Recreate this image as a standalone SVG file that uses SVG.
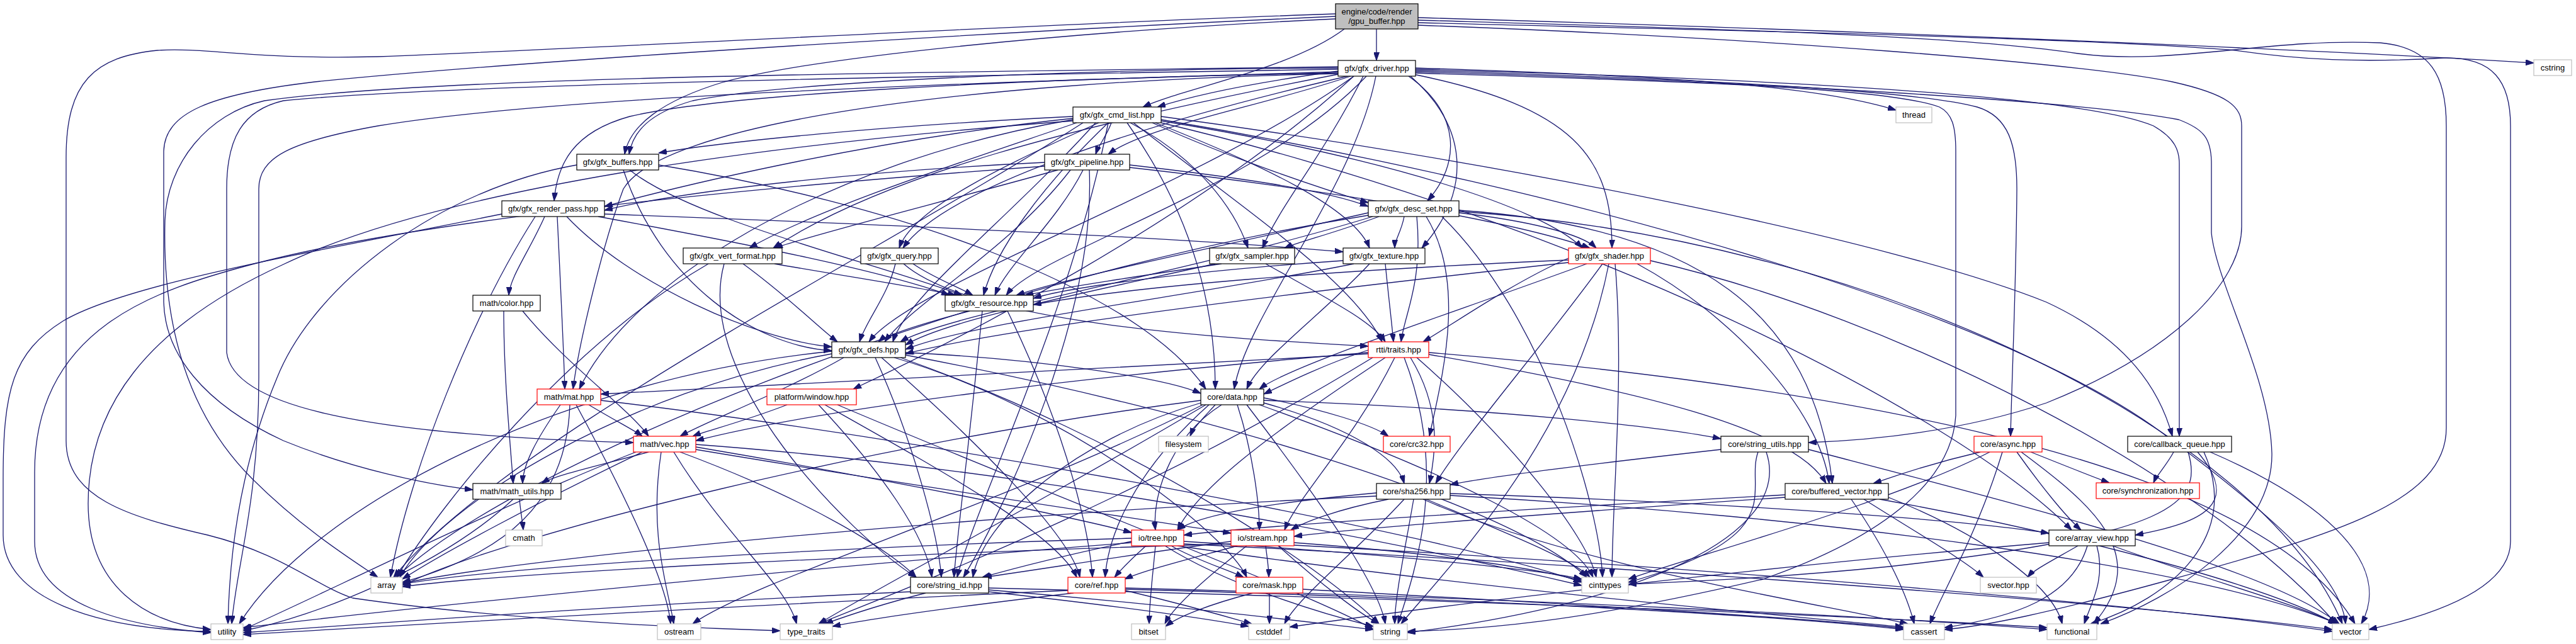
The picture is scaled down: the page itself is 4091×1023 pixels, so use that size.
<svg xmlns="http://www.w3.org/2000/svg" width="4091" height="1023" viewBox="0 0 4091 1023">
<style>
.n rect{fill:#fff;stroke:#000;stroke-width:1.2}
.n.r rect{stroke:#ff0000}
.n.g rect{stroke:#bfbfbf}
.n.root rect{fill:#bfbfbf}
.n text{font-family:"Liberation Sans",Arial,sans-serif;font-size:13px;text-anchor:middle;fill:#000}
#edges path{fill:none;stroke:#191970;stroke-width:1.3;marker-end:url(#a)}
</style>
<defs>
<marker id="a" markerWidth="13" markerHeight="9" refX="13" refY="4.5" orient="auto" markerUnits="userSpaceOnUse"><path d="M0,0 L13,4.5 L0,9 z" fill="#191970" stroke="#191970" stroke-width="1"/></marker>
</defs>
<rect width="4091" height="1023" fill="#fff"/>
<g id="edges">
<path d="M2186,46 C2186,66 2186,76 2186,96"/>
<path d="M2135,46 C2050,110 1880,140 1815,170"/>
<path d="M2121,30 C1700,50 1300,90 1150,130 C1050,160 1000,200 992,245"/>
<path d="M2252,28 C3000,50 3700,80 4024,100"/>
<path d="M2252,32 C2700,45 3100,55 3300,85 C3450,105 3600,60 3780,68 C3860,75 3885,120 3885,200 L3885,680 C3885,800 3700,850 3450,920 C3250,975 3150,995 3088,1000"/>
<path d="M2252,36 C2800,50 3300,60 3550,80 C3650,95 3750,100 3880,92 C3960,90 3987,130 3987,200 L3987,860 C3987,940 3850,980 3762,1000"/>
<path d="M2252,40 C2800,60 3300,100 3450,130 C3540,150 3560,170 3560,200 L3560,360 C3560,450 3450,560 3250,640 C3100,690 2950,700 2872,703"/>
<path d="M2121,22 C1600,40 1100,70 600,90 C400,95 330,75 250,80 C150,90 105,130 105,250 L105,700 C105,790 200,820 330,850 C450,880 500,930 560,950 C800,985 1100,998 1239,1002"/>
<path d="M2121,26 C1700,45 900,90 500,130 C330,150 262,180 260,240 L260,480 C262,560 320,640 450,700 C560,745 680,770 751,778"/>
<path d="M2125,113 C2000,130 1900,150 1838,170"/>
<path d="M2125,108 C1700,110 1250,130 1100,160 C1030,180 1005,210 999,245"/>
<path d="M2145,121 C2000,170 1820,200 1760,245"/>
<path d="M2125,116 C1600,125 1150,150 1000,185 C910,210 885,260 880,319"/>
<path d="M2237,121 C2320,180 2320,260 2267,319"/>
<path d="M2125,118 C1700,200 1400,280 1228,394"/>
<path d="M2140,121 C1800,200 1500,300 1434,394"/>
<path d="M2165,121 C2100,250 2030,330 2005,394"/>
<path d="M2240,121 C2330,200 2340,300 2258,394"/>
<path d="M2245,118 C2500,170 2560,250 2560,394"/>
<path d="M2170,121 C2000,300 1650,400 1598,469"/>
<path d="M2150,121 C1900,300 1450,450 1380,543"/>
<path d="M2125,117 C1500,130 1050,200 990,300 C960,380 920,540 910,618"/>
<path d="M2125,110 C1400,122 700,135 450,160 C385,175 360,220 360,300 L360,560 C370,640 550,690 1006,703"/>
<path d="M2150,121 C1900,350 1500,550 1355,618"/>
<path d="M2185,121 C2150,300 1980,500 1960,618"/>
<path d="M2248,112 C2700,125 3050,145 3140,170 C3190,185 3203,230 3203,300 C3202,450 3195,600 3193,693"/>
<path d="M2248,110 C2800,125 3300,150 3420,200 C3455,220 3461,240 3461,260 L3461,693"/>
<path d="M2248,114 C2800,130 3300,160 3460,190 C3500,205 3512,220 3512,260 L3512,370 C3520,450 3605,600 3608,720 C3610,850 3450,950 3336,991"/>
<path d="M2248,116 C2700,130 3000,140 3080,170 C3100,180 3106,200 3106,240 L3106,660 C3100,760 3000,850 2800,920 C2500,990 2350,1000 2235,1003"/>
<path d="M2248,108 C2700,122 2900,140 3011,175"/>
<path d="M2125,106 C1500,115 700,120 420,160 C330,180 265,260 262,350 C258,500 290,650 400,760 C480,840 560,890 600,917"/>
<path d="M2125,114 C1600,130 900,150 600,200 C460,225 411,250 411,300 L411,600 C411,800 375,900 368,991"/>
<path d="M1704,185 C1400,200 1150,225 1046,243"/>
<path d="M1765,195 C1758,215 1745,230 1740,245"/>
<path d="M1704,188 C1400,220 1100,290 960,328"/>
<path d="M1830,195 C1950,250 2100,300 2173,322"/>
<path d="M1710,195 C1550,250 1300,330 1190,394"/>
<path d="M1745,195 C1600,260 1450,330 1428,394"/>
<path d="M1795,195 C1900,250 1960,330 1982,394"/>
<path d="M1835,195 C2000,260 2150,330 2175,394"/>
<path d="M1844,192 C2200,250 2450,330 2513,394"/>
<path d="M1760,195 C1650,300 1580,400 1562,469"/>
<path d="M1740,195 C1600,350 1440,470 1418,543"/>
<path d="M1790,195 C1900,350 1930,500 1930,618"/>
<path d="M1704,190 C1300,260 1000,450 920,618"/>
<path d="M1844,185 C2400,260 3000,380 3250,480 C3380,540 3430,620 3450,693"/>
<path d="M1704,192 C1200,230 700,300 450,420 C230,520 140,650 140,800 C140,930 230,990 335,1000"/>
<path d="M1720,195 C1400,400 800,700 625,917"/>
<path d="M1844,190 C2500,300 3200,500 3450,700 C3650,850 3720,930 3725,991"/>
<path d="M1760,195 C1700,500 1550,800 1520,917"/>
<path d="M1844,195 C2500,350 3100,650 3290,842"/>
<path d="M1800,195 C2000,350 2150,450 2195,543"/>
<path d="M1000,270 C1100,350 1400,420 1528,469"/>
<path d="M990,270 C1050,450 1200,550 1321,557"/>
<path d="M916,262 C700,300 500,450 440,600 C390,720 365,850 362,991"/>
<path d="M1046,262 C1400,320 1800,450 1915,618"/>
<path d="M1659,258 C1400,270 1100,300 960,334"/>
<path d="M1794,262 C1950,280 2100,300 2173,328"/>
<path d="M1680,270 C1500,320 1300,370 1230,394"/>
<path d="M1794,266 C2100,300 2400,350 2525,394"/>
<path d="M1720,270 C1680,350 1600,420 1580,469"/>
<path d="M1700,270 C1600,400 1450,480 1405,543"/>
<path d="M1659,264 C1300,290 700,340 400,420 C250,460 55,520 55,750 L55,860 C55,960 200,995 335,1005"/>
<path d="M1730,270 C1740,500 1600,800 1530,917"/>
<path d="M960,340 C1500,360 1900,380 2133,400"/>
<path d="M950,344 C1200,390 1400,430 1508,469"/>
<path d="M900,344 C1000,450 1200,540 1321,551"/>
<path d="M865,344 C840,400 810,440 808,469"/>
<path d="M885,344 C890,450 895,550 897,618"/>
<path d="M797,340 C500,400 200,450 100,510 C20,560 5,620 5,760 L5,850 C5,950 150,1000 335,1003"/>
<path d="M850,344 C750,500 650,750 620,917"/>
<path d="M2190,344 C2120,370 2060,385 2040,394"/>
<path d="M2230,344 C2225,370 2215,380 2215,394"/>
<path d="M2317,338 C2420,350 2510,370 2535,394"/>
<path d="M2173,338 C1900,400 1700,440 1614,469"/>
<path d="M2180,344 C1900,430 1500,500 1430,543"/>
<path d="M2250,344 C2260,450 2230,500 2225,543"/>
<path d="M2265,344 C2330,450 2290,600 2270,693"/>
<path d="M2317,334 C2700,360 2880,500 2910,768"/>
<path d="M2290,344 C2450,500 2540,800 2545,917"/>
<path d="M2173,342 C1500,450 800,750 630,917"/>
<path d="M2317,336 C3000,380 3600,700 3720,991"/>
<path d="M1230,419 C1350,440 1450,455 1518,469"/>
<path d="M1180,419 C1250,470 1300,520 1330,543"/>
<path d="M1125,419 C900,550 700,800 630,917"/>
<path d="M1150,419 C1100,600 1350,850 1455,917"/>
<path d="M1450,419 C1480,440 1520,455 1545,469"/>
<path d="M1422,419 C1410,470 1375,510 1365,543"/>
<path d="M1435,419 C1550,520 2000,540 2173,550"/>
<path d="M1940,419 C1800,440 1700,455 1628,469"/>
<path d="M1930,419 C1700,470 1500,510 1438,548"/>
<path d="M2010,419 C2100,470 2180,510 2200,543"/>
<path d="M2133,414 C1900,430 1700,455 1641,474"/>
<path d="M2150,419 C1900,470 1550,510 1438,555"/>
<path d="M2200,419 C2205,470 2210,510 2213,543"/>
<path d="M2175,419 C2100,500 2000,570 1980,618"/>
<path d="M2491,413 C2100,430 1800,455 1641,484"/>
<path d="M2491,417 C2100,460 1600,520 1438,562"/>
<path d="M2520,419 C2300,500 2050,580 2000,618"/>
<path d="M2545,419 C2450,550 2320,700 2280,768"/>
<path d="M2600,419 C2750,500 2890,650 2905,768"/>
<path d="M2565,419 C2580,600 2560,800 2560,917"/>
<path d="M2621,414 C3000,500 3500,750 3710,991"/>
<path d="M2555,419 C2500,700 2300,900 2225,991"/>
<path d="M2491,410 C2400,450 2300,520 2260,543"/>
<path d="M1540,494 C1480,510 1410,530 1395,543"/>
<path d="M1560,494 C1540,700 1520,850 1515,917"/>
<path d="M1600,494 C1700,700 1730,850 1735,917"/>
<path d="M830,494 C900,580 1000,650 1030,693"/>
<path d="M800,494 C800,600 810,700 815,768"/>
<path d="M1340,568 C1250,620 1120,670 1080,693"/>
<path d="M1438,560 C1650,570 1850,600 1907,625"/>
<path d="M1321,562 C1000,620 700,800 635,917"/>
<path d="M1321,558 C900,600 500,800 380,991"/>
<path d="M1390,568 C1450,700 1490,850 1495,917"/>
<path d="M1400,568 C1550,700 1700,850 1715,917"/>
<path d="M1420,568 C1700,650 1950,850 1980,917"/>
<path d="M1430,568 C1800,700 2100,900 2190,991"/>
<path d="M1438,564 C1900,650 2400,800 2520,917"/>
<path d="M2173,556 C2100,580 2040,610 2007,626"/>
<path d="M2173,560 C1700,600 1300,650 1105,700"/>
<path d="M2173,562 C1700,590 1200,610 954,626"/>
<path d="M2200,568 C2000,700 1900,780 1870,842"/>
<path d="M2215,568 C2150,700 2060,790 2040,842"/>
<path d="M2240,568 C2290,650 2280,720 2270,768"/>
<path d="M2269,563 C2600,620 2850,680 2900,768"/>
<path d="M2250,568 C2400,700 2520,850 2535,917"/>
<path d="M2230,568 C2300,750 2250,900 2220,991"/>
<path d="M2269,560 C3000,620 3600,750 3740,991"/>
<path d="M2180,568 C1800,800 1400,950 1300,991"/>
<path d="M935,643 C980,670 1010,685 1020,693"/>
<path d="M890,643 C850,700 830,740 830,768"/>
<path d="M905,643 C900,800 800,880 639,925"/>
<path d="M915,643 C1000,800 1060,930 1065,991"/>
<path d="M954,636 C1500,700 2300,850 2512,925"/>
<path d="M1250,643 C1180,670 1120,685 1100,693"/>
<path d="M1310,643 C1500,750 1680,850 1710,917"/>
<path d="M1300,643 C1400,750 1470,850 1480,917"/>
<path d="M1330,643 C1700,800 2100,950 2181,1000"/>
<path d="M1930,643 C1910,665 1895,680 1890,693"/>
<path d="M1940,643 C1850,700 1830,800 1835,842"/>
<path d="M1965,643 C1990,720 2000,800 2000,842"/>
<path d="M2007,640 C2150,680 2220,730 2230,768"/>
<path d="M2007,632 C2100,650 2180,675 2205,693"/>
<path d="M2007,636 C2400,650 2650,680 2733,697"/>
<path d="M1920,643 C1800,750 1760,850 1755,917"/>
<path d="M1907,640 C1700,700 1560,830 1545,917"/>
<path d="M1907,636 C1400,700 800,850 639,930"/>
<path d="M1980,643 C2100,800 2190,930 2200,991"/>
<path d="M2000,643 C2300,750 2500,850 2530,917"/>
<path d="M1910,643 C1600,800 1200,920 1100,991"/>
<path d="M1915,643 C1650,800 1400,930 1300,991"/>
<path d="M1030,718 C950,740 880,755 860,768"/>
<path d="M1020,718 C850,800 700,880 639,920"/>
<path d="M1010,718 C800,800 500,950 386,1000"/>
<path d="M1050,718 C1030,850 1060,930 1070,991"/>
<path d="M1080,718 C1300,800 1420,880 1455,917"/>
<path d="M1105,710 C1400,760 1700,820 1797,846"/>
<path d="M1105,714 C1500,780 1850,830 1955,847"/>
<path d="M1105,706 C1700,750 2300,880 2512,930"/>
<path d="M1070,718 C1150,850 1250,930 1265,991"/>
<path d="M2733,714 C2500,740 2350,760 2303,770"/>
<path d="M2792,718 C2770,780 2850,850 2586,925"/>
<path d="M2805,718 C2850,850 2600,960 2235,1005"/>
<path d="M2872,714 C3200,800 3600,900 3715,991"/>
<path d="M3145,718 C3050,740 3000,760 2975,768"/>
<path d="M3225,718 C3280,740 3330,760 3350,767"/>
<path d="M3203,718 C3240,770 3280,820 3305,842"/>
<path d="M3210,718 C3320,800 3420,880 3325,991"/>
<path d="M3180,718 C3140,850 3080,950 3065,991"/>
<path d="M3160,718 C3000,800 2700,880 2586,920"/>
<path d="M3452,718 C3440,740 3425,755 3420,767"/>
<path d="M3490,718 C3560,800 3500,830 3391,850"/>
<path d="M3510,718 C3700,800 3800,900 3750,991"/>
<path d="M3475,718 C3500,800 3450,850 3000,900 C2800,920 2650,925 2586,928"/>
<path d="M3500,718 C3560,850 3450,950 3320,991"/>
<path d="M2835,786 C2400,810 2000,835 1880,850"/>
<path d="M2835,790 C2400,820 2150,840 2055,852"/>
<path d="M2960,793 C3050,850 3120,890 3150,917"/>
<path d="M2985,793 C3300,850 3600,930 3710,991"/>
<path d="M2940,793 C3000,880 3030,950 3040,991"/>
<path d="M2999,790 C3150,850 3260,930 3275,991"/>
<path d="M2186,783 C2000,800 1900,820 1870,842"/>
<path d="M2205,793 C2120,810 2070,830 2050,842"/>
<path d="M2186,788 C1500,820 800,890 639,927"/>
<path d="M2265,793 C2400,850 2500,890 2525,917"/>
<path d="M2245,793 C2230,880 2215,950 2215,991"/>
<path d="M2230,793 C2150,880 2060,950 2040,991"/>
<path d="M2303,787 C2900,820 3500,900 3712,991"/>
<path d="M2260,793 C2500,900 2900,960 3030,991"/>
<path d="M2303,784 C2800,800 3150,830 3254,847"/>
<path d="M1446,940 C1000,960 600,990 386,1005"/>
<path d="M1470,942 C1400,960 1340,980 1310,991"/>
<path d="M1570,937 C1850,960 2050,985 2181,1000"/>
<path d="M1570,940 C1750,960 1900,980 1983,995"/>
<path d="M1570,934 C2200,950 2900,975 3251,997"/>
<path d="M1797,860 C1700,880 1620,900 1560,917"/>
<path d="M1820,867 C1800,885 1780,905 1770,917"/>
<path d="M1860,867 C1900,890 1950,905 1975,917"/>
<path d="M1835,867 C1830,920 1825,960 1825,991"/>
<path d="M1797,855 C1300,870 800,900 639,928"/>
<path d="M1797,862 C1300,900 700,960 386,997"/>
<path d="M1880,860 C2200,880 2450,905 2512,920"/>
<path d="M1880,864 C2600,900 3400,960 3704,1000"/>
<path d="M1850,867 C1950,930 2100,975 2181,995"/>
<path d="M1870,867 C2300,930 2800,975 3023,996"/>
<path d="M1955,860 C1800,880 1650,905 1562,917"/>
<path d="M1965,867 C1900,885 1820,905 1786,920"/>
<path d="M2010,867 C2012,885 2015,900 2015,917"/>
<path d="M1955,864 C1400,880 800,910 639,932"/>
<path d="M2055,862 C2300,880 2450,905 2512,923"/>
<path d="M2030,867 C2100,930 2160,975 2190,991"/>
<path d="M2055,866 C2700,900 3400,960 3704,1003"/>
<path d="M1980,867 C1900,930 1860,970 1850,991"/>
<path d="M1696,938 C1200,960 700,990 386,1008"/>
<path d="M1705,942 C1550,960 1400,980 1322,995"/>
<path d="M1787,938 C1880,960 1950,980 1988,991"/>
<path d="M1787,934 C2400,950 3000,980 3251,1000"/>
<path d="M1787,936 C2300,950 2800,975 3023,1000"/>
<path d="M1990,942 C1920,960 1870,980 1851,995"/>
<path d="M2016,942 C2016,960 2016,975 2016,991"/>
<path d="M2069,936 C2500,960 2850,980 3023,998"/>
<path d="M3300,867 C3260,890 3230,905 3220,917"/>
<path d="M3315,867 C3290,950 3200,980 3088,997"/>
<path d="M3330,867 C3345,920 3320,960 3310,991"/>
<path d="M3355,867 C3500,920 3650,960 3710,991"/>
<path d="M3254,862 C2800,900 2300,960 2048,996"/>
<path d="M825,793 C827,815 830,830 831,842"/>
<path d="M815,793 C700,900 500,980 386,1002"/>
</g>
<g id="n_gpu_buffer" class="n root"><rect x="2121" y="6" width="131" height="40"/><text x="2186.5" y="22.5">engine/code/render</text><text x="2186.5" y="37.5">/gpu_buffer.hpp</text></g>
<g id="n_gfx_driver" class="n"><rect x="2125" y="96" width="123" height="25"/><text x="2186.5" y="113">gfx/gfx_driver.hpp</text></g>
<g id="n_cstring" class="n g"><rect x="4024" y="95" width="60" height="25"/><text x="4054" y="112">cstring</text></g>
<g id="n_gfx_cmd_list" class="n"><rect x="1704" y="170" width="140" height="25"/><text x="1774" y="187">gfx/gfx_cmd_list.hpp</text></g>
<g id="n_thread" class="n g"><rect x="3011" y="170" width="57" height="25"/><text x="3039.5" y="187">thread</text></g>
<g id="n_gfx_buffers" class="n"><rect x="916" y="245" width="130" height="25"/><text x="981" y="262">gfx/gfx_buffers.hpp</text></g>
<g id="n_gfx_pipeline" class="n"><rect x="1659" y="245" width="135" height="25"/><text x="1726.5" y="262">gfx/gfx_pipeline.hpp</text></g>
<g id="n_gfx_render_pass" class="n"><rect x="797" y="319" width="163" height="25"/><text x="878.5" y="336">gfx/gfx_render_pass.hpp</text></g>
<g id="n_gfx_desc_set" class="n"><rect x="2173" y="319" width="144" height="25"/><text x="2245" y="336">gfx/gfx_desc_set.hpp</text></g>
<g id="n_gfx_vert_format" class="n"><rect x="1085" y="394" width="157" height="25"/><text x="1163.5" y="411">gfx/gfx_vert_format.hpp</text></g>
<g id="n_gfx_query" class="n"><rect x="1367" y="394" width="123" height="25"/><text x="1428.5" y="411">gfx/gfx_query.hpp</text></g>
<g id="n_gfx_sampler" class="n"><rect x="1921" y="394" width="135" height="25"/><text x="1988.5" y="411">gfx/gfx_sampler.hpp</text></g>
<g id="n_gfx_texture" class="n"><rect x="2133" y="394" width="130" height="25"/><text x="2198" y="411">gfx/gfx_texture.hpp</text></g>
<g id="n_gfx_shader" class="n r"><rect x="2491" y="394" width="130" height="25"/><text x="2556" y="411">gfx/gfx_shader.hpp</text></g>
<g id="n_gfx_resource" class="n"><rect x="1501" y="469" width="140" height="25"/><text x="1571" y="486">gfx/gfx_resource.hpp</text></g>
<g id="n_math_color" class="n"><rect x="751" y="469" width="107" height="25"/><text x="804.5" y="486">math/color.hpp</text></g>
<g id="n_gfx_defs" class="n"><rect x="1321" y="543" width="117" height="25"/><text x="1379.5" y="560">gfx/gfx_defs.hpp</text></g>
<g id="n_rtti_traits" class="n r"><rect x="2173" y="543" width="96" height="25"/><text x="2221" y="560">rtti/traits.hpp</text></g>
<g id="n_math_mat" class="n r"><rect x="853" y="618" width="101" height="25"/><text x="903.5" y="635">math/mat.hpp</text></g>
<g id="n_platform_window" class="n r"><rect x="1218" y="618" width="142" height="25"/><text x="1289" y="635">platform/window.hpp</text></g>
<g id="n_core_data" class="n"><rect x="1907" y="618" width="100" height="25"/><text x="1957" y="635">core/data.hpp</text></g>
<g id="n_core_crc32" class="n r"><rect x="2197" y="693" width="106" height="25"/><text x="2250" y="710">core/crc32.hpp</text></g>
<g id="n_core_string_utils" class="n"><rect x="2733" y="693" width="139" height="25"/><text x="2802.5" y="710">core/string_utils.hpp</text></g>
<g id="n_core_async" class="n r"><rect x="3135" y="693" width="108" height="25"/><text x="3189" y="710">core/async.hpp</text></g>
<g id="n_core_callback_queue" class="n"><rect x="3379" y="693" width="165" height="25"/><text x="3461.5" y="710">core/callback_queue.hpp</text></g>
<g id="n_math_vec" class="n r"><rect x="1006" y="693" width="99" height="25"/><text x="1055.5" y="710">math/vec.hpp</text></g>
<g id="n_filesystem" class="n g"><rect x="1840" y="693" width="79" height="25"/><text x="1879.5" y="710">filesystem</text></g>
<g id="n_math_math_utils" class="n"><rect x="751" y="768" width="140" height="25"/><text x="821" y="785">math/math_utils.hpp</text></g>
<g id="n_core_sha256" class="n"><rect x="2186" y="768" width="117" height="25"/><text x="2244.5" y="785">core/sha256.hpp</text></g>
<g id="n_core_buffered_vector" class="n"><rect x="2835" y="768" width="164" height="25"/><text x="2917" y="785">core/buffered_vector.hpp</text></g>
<g id="n_core_synchronization" class="n r"><rect x="3329" y="767" width="164" height="25"/><text x="3411" y="784">core/synchronization.hpp</text></g>
<g id="n_cmath" class="n g"><rect x="803" y="842" width="58" height="25"/><text x="832" y="859">cmath</text></g>
<g id="n_io_tree" class="n r"><rect x="1797" y="842" width="83" height="25"/><text x="1838.5" y="859">io/tree.hpp</text></g>
<g id="n_io_stream" class="n r"><rect x="1955" y="842" width="100" height="25"/><text x="2005" y="859">io/stream.hpp</text></g>
<g id="n_core_array_view" class="n"><rect x="3254" y="842" width="137" height="25"/><text x="3322.5" y="859">core/array_view.hpp</text></g>
<g id="n_array" class="n g"><rect x="589" y="917" width="50" height="25"/><text x="614" y="934">array</text></g>
<g id="n_core_string_id" class="n"><rect x="1446" y="917" width="124" height="25"/><text x="1508" y="934">core/string_id.hpp</text></g>
<g id="n_core_ref" class="n r"><rect x="1696" y="917" width="91" height="25"/><text x="1741.5" y="934">core/ref.hpp</text></g>
<g id="n_core_mask" class="n r"><rect x="1963" y="917" width="106" height="25"/><text x="2016" y="934">core/mask.hpp</text></g>
<g id="n_cinttypes" class="n g"><rect x="2512" y="917" width="74" height="25"/><text x="2549" y="934">cinttypes</text></g>
<g id="n_svector" class="n g"><rect x="3145" y="917" width="89" height="25"/><text x="3189.5" y="934">svector.hpp</text></g>
<g id="n_utility" class="n g"><rect x="335" y="991" width="51" height="25"/><text x="360.5" y="1008">utility</text></g>
<g id="n_ostream" class="n g"><rect x="1044" y="991" width="69" height="25"/><text x="1078.5" y="1008">ostream</text></g>
<g id="n_type_traits" class="n g"><rect x="1239" y="991" width="83" height="25"/><text x="1280.5" y="1008">type_traits</text></g>
<g id="n_bitset" class="n g"><rect x="1797" y="991" width="54" height="25"/><text x="1824" y="1008">bitset</text></g>
<g id="n_cstddef" class="n g"><rect x="1983" y="991" width="65" height="25"/><text x="2015.5" y="1008">cstddef</text></g>
<g id="n_string" class="n g"><rect x="2181" y="991" width="54" height="25"/><text x="2208" y="1008">string</text></g>
<g id="n_cassert" class="n g"><rect x="3023" y="991" width="65" height="25"/><text x="3055.5" y="1008">cassert</text></g>
<g id="n_functional" class="n g"><rect x="3251" y="991" width="79" height="25"/><text x="3290.5" y="1008">functional</text></g>
<g id="n_vector" class="n g"><rect x="3704" y="991" width="58" height="25"/><text x="3733" y="1008">vector</text></g>
</svg>
